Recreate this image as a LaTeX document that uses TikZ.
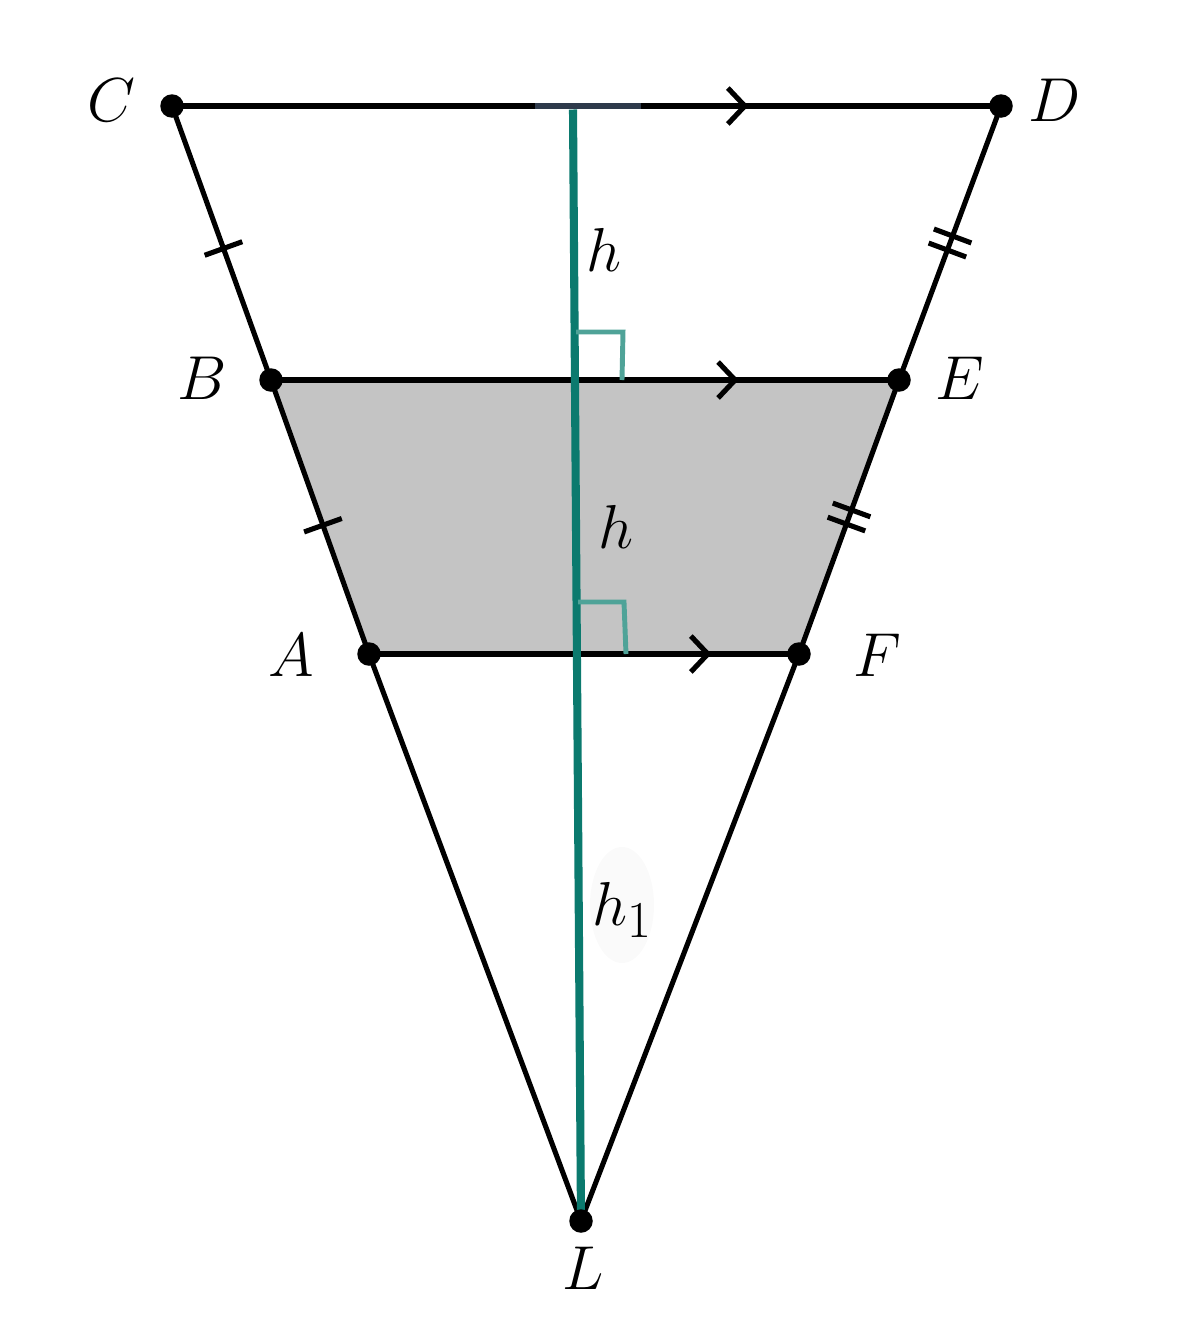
\documentclass[tikz,border=0pt]{standalone}
\usetikzlibrary{decorations.markings,backgrounds}
\definecolor{tealline}{HTML}{0B7A6E}
\definecolor{ramark}{HTML}{4FA398}
\definecolor{barcol}{HTML}{2E3A4B}
\definecolor{shadecol}{HTML}{C4C4C4}
\begin{document}
\begin{tikzpicture}[x=0.02cm,y=-0.02cm,
  seg/.style={line width=2.9pt, black},
  dot/.style={circle, fill=black, inner sep=0pt, minimum size=0.47cm},
  lab/.style={font=\fontsize{24.88}{30}\selectfont, scale=1.42},
  fwd/.style={postaction={decorate}, decoration={markings,
     mark=at position #1 with {\draw[line width=2.9pt, black] (-0.34cm,0.36cm) -- (0,0) -- (-0.34cm,-0.36cm);}}},
  onetick/.style={postaction={decorate}, decoration={markings,
     mark=at position #1 with {\draw[line width=2.9pt, black] (0,-0.4cm) -- (0,0.4cm);}}},
  twotick/.style={postaction={decorate}, decoration={markings,
     mark=at position #1 with {\draw[line width=2.9pt, black] (-0.15cm,-0.4cm) -- (-0.15cm,0.4cm) (0.15cm,-0.4cm) -- (0.15cm,0.4cm);}}},
  heightline/.style={line width=4.6pt, tealline},
  rightmark/.style={line width=2.8pt, ramark},
]
\useasboundingbox (0,0) rectangle (1183,1329);

% points
\node[dot] (C) at (172,106) {};
\node[dot] (D) at (1001,106) {};
\node[dot] (B) at (271,380) {};
\node[dot] (E) at (899,380) {};
\node[dot] (A) at (369,654) {};
\node[dot] (F) at (799,654) {};
\node[dot] (L) at (581,1221) {};
\coordinate (T) at (573,106);
\coordinate (T1) at (535,106);
\coordinate (T2) at (641,106);

\begin{scope}[on background layer]
  \fill[shadecol] (B.center) -- (E.center) -- (F.center) -- (A.center) -- cycle;
  \fill[black!2] (622,905) ellipse [x radius=32, y radius=58];
  % sides
  \draw[seg, fwd=0.691] (C.center) -- (D.center);
  \draw[seg, fwd=0.739] (B.center) -- (E.center);
  \draw[seg, fwd=0.788] (A.center) -- (F.center);
  \draw[seg, onetick=0.52] (C.center) -- (B.center);
  \draw[seg, onetick=0.53] (B.center) -- (A.center);
  \draw[seg] (A.center) -- (L.center);
  \draw[seg, twotick=0.5] (D.center) -- (E.center);
  \draw[seg, twotick=0.5] (E.center) -- (F.center);
  \draw[seg] (F.center) -- (L.center);
  % height
  \draw[line width=3.8pt, barcol] (T1) -- (T2);
  \draw[heightline] ([yshift=-0.07cm]T) -- (L.center);
  \draw[rightmark] (576,332) -- (623,332) -- (622,380);
  \draw[rightmark] (578,602) -- (624,602) -- (626,654);
\end{scope}

% labels
\node[lab] (lC) at (111,100) {$C$};
\node[lab] (lD) at (1055,100) {$D$};
\node[lab] (lB) at (202,378) {$B$};
\node[lab] (lE) at (960,378) {$E$};
\node[lab] (lA) at (291,655) {$A$};
\node[lab] (lF) at (877,655) {$F$};
\node[lab] (lL) at (583,1268) {$L$};
\node[lab] (h1) at (604,250) {$h$};
\node[lab] (h2) at (616,527) {$h$};
\node[lab] (h3) at (622,910) {$h_1$};
\end{tikzpicture}
\end{document}
